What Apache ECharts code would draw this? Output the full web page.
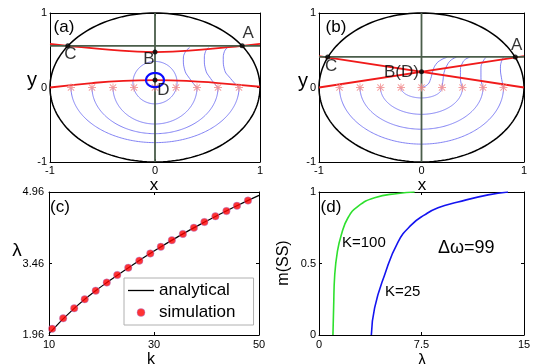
<!DOCTYPE html>
<html><head><meta charset="utf-8">
<script src="https://cdn.jsdelivr.net/npm/echarts@6/dist/echarts.min.js"></script>
<style>html,body{margin:0;padding:0;background:#fff}#c{width:534px;height:364px}</style>
</head><body><div id="c"></div>
<script>
// ---------------- data ----------------
const ringTicks = [-1, 0, 1];
const kTicks = [10, 30, 50];
const lamTicks = [1.96, 3.46, 4.96];
const lamDTicks = [0, 7.5, 15];
const mTicks = [0, 0.5, 1];

const starX = [-0.8, -0.6, -0.4, -0.2, 0, 0.2, 0.4, 0.6, 0.8];
const starY = [0, 0, 0, 0, 0, 0, 0, 0, 0];

// ellipse params: [cx, cy, rx, ry, startDeg, endDeg]
const boundary = [[0, 0, 1, 1, 0, 360]];

// panel (a)
const aHLine = [[-1, 0.56], [1, 0.56]];
const aVLine = [[0, -1], [0, 1]];
const aRedUpper = [[-1, 0.585], [-0.83, 0.56], [-0.5, 0.515], [0, 0.475], [0.5, 0.515], [0.83, 0.56], [1, 0.585]];
const aRedLower = [[-1, 0], [-0.6, 0.06], [-0.3, 0.09], [0, 0.1], [0.3, 0.09], [0.6, 0.06], [1, 0.01]];
const aNames = ['A', 'B', 'C', 'D'];
const aPX = [0.83, 0, -0.83, 0];
const aPY = [0.56, 0.475, 0.56, 0.1];
const aLoops = [[0, 0.065, 0.21, 0.285, 0, 360], [0, 0, 0.4, 0.49, 180, 360], [0, 0, 0.6, 0.62, 180, 360], [0, 0, 0.8, 0.74, 180, 360]];
const aDRing = [[0, 0.1, 0.085, 0.095, 0, 360]];
const aCurve1 = [[0.4, 0], [0.33, 0.12], [0.28, 0.25], [0.27, 0.38], [0.29, 0.48], [0.33, 0.535]];
const aCurve2 = [[0.6, 0], [0.53, 0.12], [0.48, 0.25], [0.47, 0.38], [0.48, 0.48], [0.51, 0.535]];
const aCurve3 = [[0.8, 0], [0.72, 0.12], [0.66, 0.25], [0.65, 0.38], [0.66, 0.48], [0.69, 0.535]];

// panel (b)
const bHLine = [[-1, 0.41], [1, 0.41]];
const bVLine = [[0, -1], [0, 1]];
const bRed1 = [[-1, 0], [1, 0.42]];
const bRed2 = [[-1, 0.42], [1, 0]];
const bNames = ['A', 'B(D)', 'C'];
const bPX = [0.915, 0, -0.915];
const bPY = [0.41, 0.21, 0.41];
const bLoops = [[0, 0, 0.2, 0.14, 180, 360], [0, 0, 0.4, 0.36, 180, 360], [0, 0, 0.6, 0.56, 180, 360], [0, 0, 0.8, 0.76, 180, 360]];
const bCurve0 = [[0, 0.0], [0.06, 0.04], [0.09, 0.12], [0.11, 0.22], [0.14, 0.31], [0.19, 0.37], [0.25, 0.405]];
const bCurve1 = [[0.2, 0], [0.21, 0.1], [0.22, 0.2], [0.25, 0.3], [0.29, 0.37], [0.34, 0.405]];
const bCurve2 = [[0.4, 0], [0.38, 0.12], [0.38, 0.24], [0.4, 0.33], [0.43, 0.38], [0.47, 0.405]];
const bCurve3 = [[0.6, 0], [0.58, 0.13], [0.58, 0.26], [0.6, 0.35], [0.63, 0.405]];
const bCurve4 = [[0.8, 0], [0.78, 0.13], [0.77, 0.26], [0.78, 0.35], [0.8, 0.405]];

// panel (c)
const kSim = [10.6, 12.7, 14.8, 16.8, 18.9, 21.0, 23.0, 25.1, 27.2, 29.3, 31.3, 33.4, 35.5, 37.6, 39.6, 41.7, 43.8, 45.8, 47.9];
const lamSim = [2.09, 2.31, 2.52, 2.71, 2.89, 3.06, 3.22, 3.37, 3.52, 3.67, 3.81, 3.95, 4.08, 4.21, 4.33, 4.45, 4.56, 4.67, 4.78];
const kLine = [10, 15, 20, 25, 30, 35, 40, 45, 50];
const lamLine = [1.99, 2.54, 2.98, 3.36, 3.72, 4.05, 4.35, 4.63, 4.89];

// panel (d)
const lamK100 = [1.02, 1.07, 1.15, 1.34, 1.63, 2.12, 2.85, 4.07, 5.78, 7.0];
const mK100 = [0, 0.19, 0.42, 0.58, 0.70, 0.82, 0.90, 0.96, 0.99, 1.0];
const lamK25 = [3.83, 4.07, 4.80, 5.78, 6.76, 7.73, 8.71, 10.17, 12.37, 13.83];
const mK25 = [0, 0.19, 0.42, 0.65, 0.77, 0.84, 0.89, 0.93, 0.98, 1.0];

// ---------------- styles ----------------
const FONT = '"Liberation Sans", Arial, sans-serif';
const RED = '#f01a1a';
const GUIDE = '#4a5d4a';
const THINBLUE = '#7474f2';
const STAR = 'path://M8.8,0H11.2V20H8.8Z M0,8.8H20V11.2H0Z M3,1.3L18.7,17L17,18.7L1.3,3Z M17,1.3L18.7,3L3,18.7L1.3,17Z';
const LINEICON = 'path://M0,0H100V5H0Z';
const labelOffsetA = {A: [6, -12], B: [-6, 7], C: [2.5, 9], D: [8.5, 10]};
const labelOffsetB = {A: [1.5, -12], 'B(D)': [-20, 0.5], C: [3.5, 9.5]};

function ellipseRenderer(color, width) {
  return function (params, api) {
    const c = api.coord([api.value(0), api.value(1)]);
    const s = api.size([api.value(2), api.value(3)]);
    const a0 = api.value(4), a1 = api.value(5);
    const pts = [];
    const n = 160;
    for (let i = 0; i <= n; i++) {
      const t = (a0 + (a1 - a0) * i / n) * Math.PI / 180;
      pts.push([c[0] + s[0] * Math.cos(t), c[1] - s[1] * Math.sin(t)]);
    }
    return {type: 'polyline', shape: {points: pts}, style: {stroke: color, lineWidth: width, fill: null}};
  };
}

const grids = [
  {left: 50, top: 13, width: 210, height: 149},
  {left: 319, top: 13, width: 205, height: 149},
  {left: 49, top: 192, width: 210, height: 143},
  {left: 319, top: 192, width: 205, height: 143}
].map(g => Object.assign({outerBoundsMode: 'none', containLabel: false}, g));

function axisPair(kind, gi, min, max, opts) {
  const common = {
    type: 'value', gridIndex: gi, min: min, max: max,
    splitLine: {show: false},
    axisLine: {show: true, onZero: false, lineStyle: {color: '#000', width: 1}},
    axisTick: {show: true, inside: true, length: 3, lineStyle: {color: '#000'}},
  };
  if (opts.interval !== undefined) common.interval = opts.interval;
  const main = Object.assign({}, common, {
    position: kind === 'x' ? 'bottom' : 'left',
    axisLabel: {show: true, fontSize: 11, color: '#000', fontFamily: FONT, margin: opts.margin, showMinLabel: true, showMaxLabel: true, hideOverlap: false}
  });
  const mirror = Object.assign({}, common, {
    position: kind === 'x' ? 'top' : 'right',
    axisLabel: {show: false}
  });
  if (opts.custom) {
    main.axisLabel.customValues = opts.custom;
    main.axisTick = Object.assign({}, common.axisTick, {customValues: opts.custom});
    mirror.axisTick = Object.assign({}, common.axisTick, {customValues: opts.custom});
  }
  return [main, mirror];
}

const xAxes = [].concat(
  axisPair('x', 0, -1, 1, {interval: 1, margin: 3}),
  axisPair('x', 1, -1, 1, {interval: 1, margin: 3}),
  axisPair('x', 2, 10, 50, {custom: kTicks, margin: 4}),
  axisPair('x', 3, 0, 15, {interval: 7.5, margin: 4})
);
const yAxes = [].concat(
  axisPair('y', 0, -1, 1, {interval: 1, margin: 3}),
  axisPair('y', 1, -1, 1, {interval: 1, margin: 3}),
  axisPair('y', 2, 1.96, 4.96, {custom: lamTicks, margin: 5}),
  axisPair('y', 3, 0, 1, {interval: 0.5, margin: 3})
);

function lineS(ax, data, color, width, name, smooth) {
  return {type: 'line', name: name || undefined, xAxisIndex: ax, yAxisIndex: ax, data: data, symbol: 'none', showSymbol: false,
    smooth: smooth === undefined ? true : smooth, lineStyle: {color: color, width: width}, itemStyle: {color: color},
    silent: true, z: 2};
}
function ellS(ax, data, color, width, z) {
  return {type: 'custom', xAxisIndex: ax, yAxisIndex: ax, data: data, renderItem: ellipseRenderer(color, width), silent: true, z: z || 2, clip: false};
}
function starS(ax) {
  return {type: 'scatter', xAxisIndex: ax, yAxisIndex: ax, data: starX.map((x, i) => [x, starY[i]]),
    symbol: STAR, symbolSize: 8, itemStyle: {color: '#f28a8a'}, silent: true, z: 4};
}
function ptsS(ax, names, xs, ys, offs) {
  return {type: 'scatter', xAxisIndex: ax, yAxisIndex: ax, symbolSize: 5, itemStyle: {color: '#000'}, z: 6, silent: true,
    label: {show: true, position: 'inside', formatter: '{b}', fontSize: 17, fontFamily: FONT, color: '#000'},
    data: names.map((n, i) => ({name: n, value: [xs[i], ys[i]], label: {offset: offs[n]}}))};
}

const series = [
  // panel (a)
  ellS(0, aLoops, THINBLUE, 0.9, 1),
  lineS(0, aCurve1, THINBLUE, 0.9), lineS(0, aCurve2, THINBLUE, 0.9), lineS(0, aCurve3, THINBLUE, 0.9),
  ellS(0, boundary, '#000', 1.5, 2),
  lineS(0, aRedUpper, RED, 1.8), lineS(0, aRedLower, RED, 1.8),
  lineS(0, aHLine, GUIDE, 1.8, null, false), lineS(0, aVLine, GUIDE, 1.8, null, false),
  starS(0),
  ellS(0, aDRing, '#0a0aff', 2.2, 5),
  ptsS(0, aNames, aPX, aPY, labelOffsetA),
  // panel (b)
  ellS(2, bLoops, THINBLUE, 0.9, 1),
  lineS(2, bCurve0, THINBLUE, 0.9), lineS(2, bCurve1, THINBLUE, 0.9), lineS(2, bCurve2, THINBLUE, 0.9),
  lineS(2, bCurve3, THINBLUE, 0.9), lineS(2, bCurve4, THINBLUE, 0.9),
  ellS(2, boundary, '#000', 1.5, 2),
  lineS(2, bRed1, RED, 1.8, null, false), lineS(2, bRed2, RED, 1.8, null, false),
  lineS(2, bHLine, GUIDE, 1.8, null, false), lineS(2, bVLine, GUIDE, 1.8, null, false),
  starS(2),
  ptsS(2, bNames, bPX, bPY, labelOffsetB),
  // panel (c)
  lineS(4, kLine.map((k, i) => [k, lamLine[i]]), '#000', 1.2, 'analytical'),
  {type: 'scatter', name: 'simulation', xAxisIndex: 4, yAxisIndex: 4, data: kSim.map((k, i) => [k, lamSim[i]]),
    symbol: 'circle', symbolSize: 7.5, itemStyle: {color: '#ff0000', borderColor: '#9a90ff', borderWidth: 0.5}, z: 4, silent: true},
  // panel (d)
  lineS(6, lamK100.map((l, i) => [l, mK100[i]]), '#2ee02e', 1.6),
  lineS(6, lamK25.map((l, i) => [l, mK25[i]]), '#1414f0', 1.6)
];

function txt(x, y, s, size, opts) {
  return Object.assign({type: 'text', x: x, y: y, silent: true,
    style: Object.assign({text: s, fontSize: size, fontFamily: FONT, fill: '#000', textAlign: 'center', textVerticalAlign: 'middle'}, (opts && opts.style) || {})},
    opts && opts.rotation !== undefined ? {rotation: opts.rotation} : {});
}

const graphics = [
  txt(64, 27, '(a)', 17), txt(336, 27, '(b)', 17), txt(60, 207, '(c)', 17), txt(331, 207, '(d)', 17),
  txt(32, 80, 'y', 20), txt(303, 81, 'y', 20),
  txt(154, 185, 'x', 17), txt(422, 185, 'x', 17),
  txt(17, 251, 'λ', 19), txt(151, 360, 'k', 16), txt(422, 361, 'λ', 16),
  txt(284, 263, 'm(SS)', 16, {rotation: Math.PI / 2}),
  txt(342, 243, 'K=100', 15, {style: {textAlign: 'left'}}),
  txt(385, 292, 'K=25', 15, {style: {textAlign: 'left'}}),
  txt(438, 248, 'Δω=99', 18, {style: {textAlign: 'left'}})
];

const chart = echarts.init(document.getElementById('c'), null, {renderer: 'canvas'});
chart.setOption({
  animation: false,
  backgroundColor: '#fff',
  textStyle: {fontFamily: FONT},
  grid: grids,
  xAxis: xAxes,
  yAxis: yAxes,
  legend: {
    data: [
      {name: 'analytical', icon: LINEICON, itemStyle: {color: '#000'}},
      {name: 'simulation', icon: 'circle', itemStyle: {color: '#ff0000', borderColor: '#9a90ff', borderWidth: 0.5}}
    ],
    orient: 'vertical', left: 124, top: 278, itemGap: 5, itemWidth: 26, itemHeight: 8,
    padding: [4, 18, 4, 4], borderColor: '#b0b0b0', borderWidth: 1, backgroundColor: '#fff',
    textStyle: {fontSize: 17, color: '#000', fontFamily: FONT}, selectedMode: false
  },
  series: series,
  graphic: graphics
});
</script></body></html>
